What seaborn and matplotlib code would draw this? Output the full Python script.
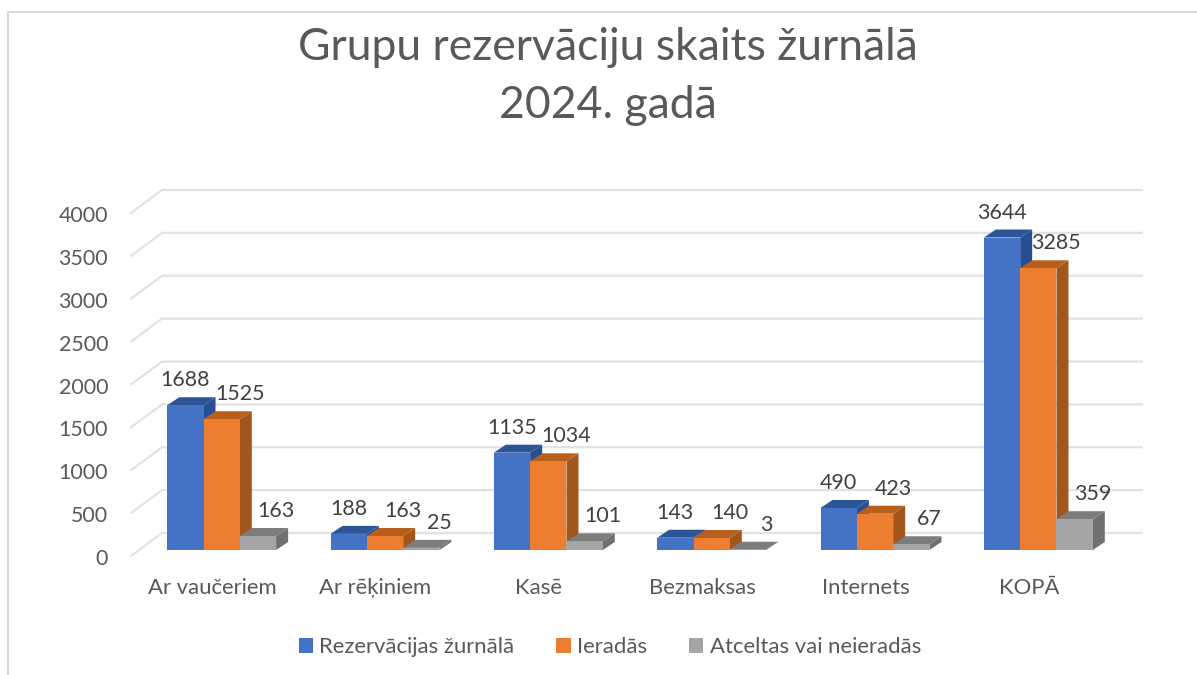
import pandas as pd
import matplotlib.pyplot as plt
import seaborn as sns
from matplotlib.lines import Line2D
from matplotlib.transforms import ScaledTranslation

# Dati
kategorijas = ['Ar vaučeriem', 'Ar rēķiniem', 'Kasē', 'Bezmaksas', 'Internets', 'KOPĀ']
rezervacijas = [1688, 188, 1135, 143, 490, 3644]
ieradas = [1525, 163, 1034, 140, 423, 3285]
atceltas = [163, 25, 101, 3, 67, 359]
serijas = ['Rezervācijas žurnālā', 'Ieradās', 'Atceltas vai neieradās']
y_ticks = [0, 500, 1000, 1500, 2000, 2500, 3000, 3500, 4000]

W, H = 1197, 675
ASS_X0, ASS_X1 = 140, 1120   # bar plane, pixels
ASS_Y0, ASS_Y1 = 550, 207

krasas = ['#4472C4', '#ED7D31', '#A5A5A5']
sani = ['#264F96', '#A3561C', '#707070']
virsas = ['#2C5598', '#B85F1C', '#7C7C7C']
teksts = '#595959'
rezgis = '#E2E2E2'

sns.set_theme(style='white')
plt.rcParams['font.family'] = ['Lato', 'DejaVu Sans']

df = pd.DataFrame({
    'kategorija': kategorijas * 3,
    'serija': [s for s in serijas for _ in kategorijas],
    'vertiba': rezervacijas + ieradas + atceltas,
})

fig = plt.figure(figsize=(W / 100, H / 100), dpi=100)
ax = fig.add_axes([ASS_X0 / W, 1 - ASS_Y0 / H, (ASS_X1 - ASS_X0) / W, (ASS_Y0 - ASS_Y1) / H])

sns.barplot(data=df, x='kategorija', y='vertiba', hue='serija', palette=krasas, saturation=1,
            gap=0, width=0.667, linewidth=0, ax=ax, zorder=3)
handles, labels = ax.get_legend_handles_labels()
ax.get_legend().remove()

ax.set_xlim(-0.5, 5.5)
ax.set_ylim(0, 4000)
ax.set_xlabel('')
ax.set_ylabel('')
ax.set_yticks(y_ticks)
sns.despine(ax=ax, left=True, bottom=True, top=True, right=True)
ax.patch.set_visible(False)

# pixels to data units
px_x = 6 / (ASS_X1 - ASS_X0)
px_y = 4000 / (ASS_Y0 - ASS_Y1)

# back wall and floor lines
for v in y_ticks:
    xs = [-0.5 - 9 * px_x, -0.5 + 22 * px_x, 5.5 + 22 * px_x]
    ys = [v - 6 * px_y, v + 17 * px_y, v + 17 * px_y]
    ax.plot(xs, ys, color=rezgis, lw=1.6, clip_on=False, zorder=1)

# fake 3D: side and top face for each bar, painted left to right
dx, dy = 12 * px_x, 8 * px_y
z = 3
for s, cont in enumerate(ax.containers):
    for bar in cont:
        x0 = bar.get_x()
        x1 = x0 + bar.get_width()
        h = bar.get_height()
        ax.fill([x1, x1 + dx, x1 + dx, x1], [0, dy, h + dy, h], color=sani[s], lw=0, clip_on=False, zorder=z)
        ax.fill([x0, x0 + dx, x1 + dx, x1], [h, h + dy, h + dy, h], color=virsas[s], lw=0, clip_on=False, zorder=z)
        bar.set_zorder(z + 0.1)
        bar.set_clip_on(False)
        # value labels
        nobide = 0 if s == 0 else 18 * px_x
        ax.text(x0 + bar.get_width() / 2 + nobide, h + 25 * px_y, f'{int(h)}', ha='center', va='center',
                fontsize=15.4, color='#404040', zorder=6, clip_on=False)
    z += 1

# tick labels sit on the front of the floor, not on the bar plane
ax.tick_params(axis='y', length=0, pad=23, labelsize=15.4, labelcolor=teksts)
ax.tick_params(axis='x', length=0, pad=20, labelsize=15.9, labelcolor=teksts)
for lbl in ax.get_yticklabels():
    lbl.set_transform(lbl.get_transform() + ScaledTranslation(0, -0.07, fig.dpi_scale_trans))
for lbl in ax.get_xticklabels():
    lbl.set_transform(lbl.get_transform() + ScaledTranslation(-0.095, 0, fig.dpi_scale_trans))

fig.text(608 / W, 1 - 47 / H, 'Grupu rezervāciju skaits žurnālā', ha='center', va='center',
         fontsize=32, color=teksts)
fig.text(608 / W, 1 - 105 / H, '2024. gadā', ha='center', va='center', fontsize=32, color=teksts)

fig.legend(handles, labels, loc='center', bbox_to_anchor=(610 / W, 1 - 647 / H), ncol=3, frameon=False,
           fontsize=15.9, labelcolor=teksts, handlelength=0.64, handleheight=0.64, handletextpad=0.3,
           columnspacing=1.9)

# chart border
fig.add_artist(Line2D([8 / W, 8 / W, 1], [0, 1 - 12 / H, 1 - 12 / H], color='#D9D9D9', lw=1.5))

fig.savefig('out.png', dpi=100)
